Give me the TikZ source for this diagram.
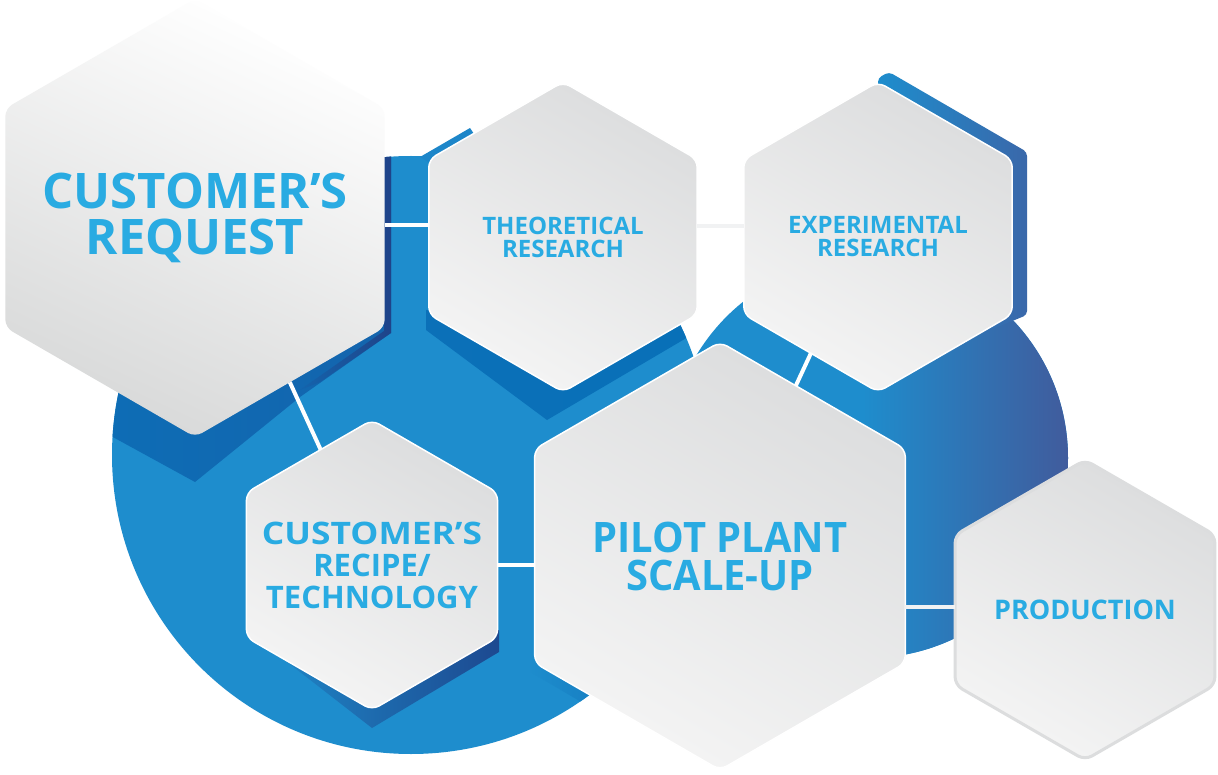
\documentclass[tikz,border=0pt]{standalone}
\usepackage{fontspec}
\usepackage{graphicx}
\setmainfont{Open Sans}
\usetikzlibrary{shapes.geometric,calc}
\definecolor{cblue}{HTML}{1E8DCD}
\definecolor{cslate}{HTML}{415B9C}
\definecolor{ctext}{HTML}{29ABE2}
\definecolor{hexdark}{HTML}{DCDDDE}
\definecolor{hexlight}{HTML}{F4F4F4}
\definecolor{crdark}{HTML}{D8D9D9}
\definecolor{pdborder}{HTML}{DCDDDE}
\definecolor{shadeA}{HTML}{0B70B8}
\definecolor{shadeM}{HTML}{1464AD}
\definecolor{shadeB}{HTML}{1D4990}
\definecolor{shadeN}{HTML}{1F4389}
\definecolor{shadeC}{HTML}{0870B8}
\definecolor{shadeD}{HTML}{0A68B1}
\definecolor{stripR}{HTML}{3A68AA}
\definecolor{stripT}{HTML}{1D86C9}
\definecolor{connlight}{HTML}{F1F2F3}
\begin{document}
\begin{tikzpicture}[x=1pt,y=-1pt,
  hexa/.style={regular polygon, regular polygon sides=6, shape border rotate=30,
    minimum size=#1, inner sep=0pt, outer sep=0pt, rounded corners=8pt,
    draw=white, line width=1.5pt, top color=hexdark, bottom color=hexlight, shading angle=-30},
  lbl/.style={text=ctext, align=center, inner sep=0pt},
  conn/.style={draw=white, line width=4pt},
]
\fill[white] (0,0) rectangle (1218,775);
\useasboundingbox (0,0) rectangle (1218,775);

% blue backdrop: union of two circles
\fill[cblue] (411,455) circle[radius=299pt] (868,458) circle[radius=200pt];
\begin{scope}
  \clip (868,458) circle[radius=200pt];
  \shade[left color=cblue, right color=cslate] (862,250) rectangle (1070,660);
\end{scope}

% shadows, clipped to the backdrop
\begin{scope}
  \clip (411,455) circle[radius=299pt] (868,458) circle[radius=200pt];
  \shade[left color=shadeA, right color=shadeM] (5,378) -- (195,482) -- (300,397) -- (391,333) -- (391,105) -- (5,105) -- cycle;
  \shade[left color=shadeM, right color=shadeN] (384,105) -- (391,105) -- (391,333) -- (320,382) -- (300,390) -- (384,331) -- cycle;
  \shade[left color=shadeA, right color=shadeC] (426,310) -- (426,330) -- (547,420) -- (700,330) -- (700,300) -- cycle;
  \shade[left color=cblue, middle color=shadeA, right color=shadeB] (246,630) -- (372,728) -- (499,652) -- (499,630) -- cycle;
  \shade[left color=cblue, right color=shadeD] (527,452) -- (527,670) -- (722,785) -- (722,700) -- cycle;
\end{scope}

% backing strips
\shade[left color=cblue, right color=stripR, rounded corners=4pt]
  (878,78) -- (889,72) -- (1027,152) -- (1027,315) -- (990,330) -- (878,240) -- cycle;
\fill[stripT] (420,157) -- (470,128) -- (474,134) -- (430,163) -- cycle;

% hexagons
\node[hexa=438, top color=white, bottom color=crdark, draw=none, shading angle=-25] (cr) at (195,218) {};
\node[hexa=310] (tr) at (563,237) {};
\node[hexa=310] (er) at (878,237) {};
\node[hexa=290] (rt) at (372,565) {};
\node[hexa=428] (pp) at (720,556) {};
\node[hexa=300, draw=pdborder, line width=3pt] (pd) at (1085,610) {};

% connectors
\draw[conn] ([yshift=-7pt]cr.east) -- ([yshift=12pt]tr.west);
\draw[conn, draw=connlight] ([yshift=11pt]tr.east) -- ([yshift=11pt]er.west);
\draw[conn] (cr.-60) -- (rt.114);
\draw[conn] (rt.east) -- ([yshift=-9pt]pp.west);
\draw[conn] (er.-120) -- (pp.66);
\draw[conn, draw=connlight] ([yshift=-51pt]pp.east) -- ([yshift=3pt]pd.west);

% labels
\node[lbl, font=\bfseries\fontsize{49}{46}\selectfont] (crt) at (cr.center) {CUSTOMER’S\\REQUEST};
\node[lbl, font=\bfseries\fontsize{24}{23}\selectfont] (trt) at (tr.center) {THEORETICAL\\RESEARCH};
\node[lbl, font=\bfseries\fontsize{24}{23}\selectfont] (ert) at (er.center) {EXPERIMENTAL\\RESEARCH};
\node[lbl, font=\bfseries\fontsize{31}{32}\selectfont] (rtt) at (rt.center) {\scalebox{1.14}[1]{CUSTOMER’S}\\RECIPE/\\TECHNOLOGY};
\node[lbl, font=\bfseries\fontsize{42}{38}\selectfont] (ppt) at (pp.center) {\scalebox{0.95}[1]{PILOT PLANT}\\\scalebox{0.95}[1]{SCALE-UP}};
\node[lbl, font=\bfseries\fontsize{27}{27}\selectfont] (pdt) at (pd.center) {PRODUCTION};
\end{tikzpicture}
\end{document}
